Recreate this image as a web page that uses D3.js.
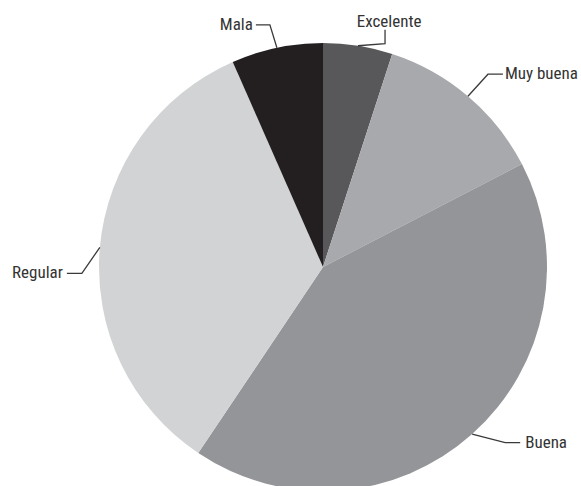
<!DOCTYPE html>
<html><head><meta charset="utf-8">
<script src="https://cdn.jsdelivr.net/npm/d3@7"></script>
<style>html,body{margin:0;padding:0;background:#fff;overflow:hidden}</style>
</head><body><svg id="c" width="581" height="486"></svg>
<script>
const categories = ["Excelente", "Muy buena", "Buena", "Regular", "Mala"];
const values = [5, 12.4, 42, 34, 6.6];
const colors = ["#58585a", "#a7a9ac", "#939598", "#d1d3d4", "#231f20"];
// leader elbow/end offsets relative to arc anchor point (dx, dy)
const leaders = [
  {elbow:[27,-2], end:[27,-16], tx:31, ty:-19, anchor:"middle"},
  {elbow:[20,-22], end:[35,-22], tx:37, ty:-17, anchor:"start"},
  {elbow:[33,8.5], end:[48,8.5], tx:53, ty:14, anchor:"start"},
  {elbow:[-18,26], end:[-33,26], tx:-37, ty:31, anchor:"end"},
  {elbow:[-7,-23], end:[-21,-23], tx:-24, ty:-18, anchor:"end"}
];

const svg = d3.select("#c");
const cx = 323, cy = 267, r = 224;
const g = svg.append("g").attr("transform", `translate(${cx},${cy})`);
const pie = d3.pie().sort(null).value(d => d.v);
const data = categories.map((c, i) => ({c, v: values[i], col: colors[i], L: leaders[i]}));
const arcs = pie(data);
const arc = d3.arc().innerRadius(0).outerRadius(r);

g.selectAll("path.slice").data(arcs).join("path")
  .attr("class", "slice")
  .attr("d", arc)
  .attr("fill", d => d.data.col);

arcs.forEach(a => {
  const mid = (a.startAngle + a.endAngle) / 2;
  const ax = r * Math.sin(mid), ay = -r * Math.cos(mid);
  const L = a.data.L;
  g.append("path")
    .attr("d", `M${ax},${ay}L${ax + L.elbow[0]},${ay + L.elbow[1]}L${ax + L.end[0]},${ay + L.end[1]}`)
    .attr("fill", "none").attr("stroke", "#3a3a3c").attr("stroke-width", 1.3);
  g.append("text")
    .attr("x", ax + L.tx).attr("y", ay + L.ty)
    .attr("text-anchor", L.anchor)
    .attr("font-family", "'Liberation Sans Narrow','Roboto Condensed','DejaVu Sans Condensed',sans-serif")
    .attr("font-size", 17)
    .attr("fill", "#333")
    .text(a.data.c);
});
</script></body></html>
